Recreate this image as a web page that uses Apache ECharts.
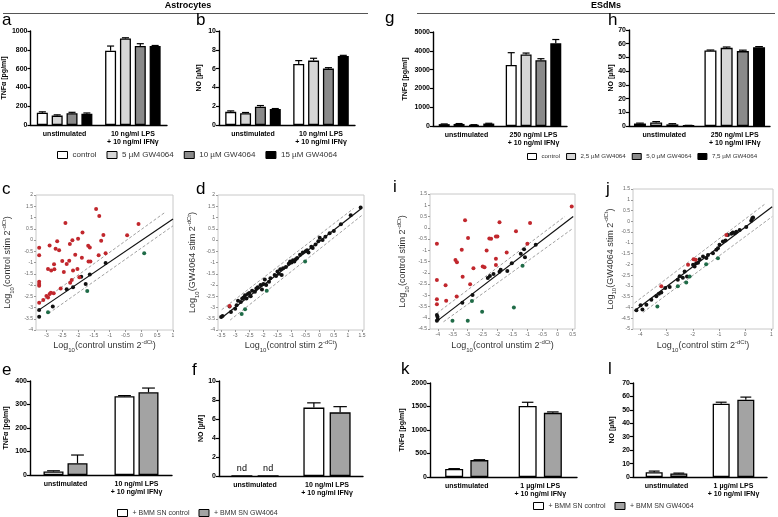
<!DOCTYPE html>
<html><head><meta charset="utf-8">
<script src="https://cdn.jsdelivr.net/npm/echarts@6/dist/echarts.min.js"></script>
<style>html,body{margin:0;padding:0;background:#fff}#c{width:778px;height:517px}</style>
</head><body><div id="c"></div>
<script>
// ---------- categories & series names ----------
const catsAstro = ['unstimulated', '10 ng/ml LPS\n+ 10 ng/ml IFNγ'];
const catsEsdm = ['unstimulated', '250 ng/ml LPS\n+ 10 ng/ml IFNγ'];
const catsBmmE = ['unstimulated', '10 ng/ml LPS\n+ 10 ng/ml IFNγ'];
const catsBmmK = ['unstimulated', '1 µg/ml LPS\n+ 10 ng/ml IFNγ'];
const astroNames = ['control', '5 µM GW4064', '10 µM GW4064', '15 µM GW4064'];
const esdmNames = ['control', '2,5 µM GW4064', '5,0 µM GW4064', '7,5 µM GW4064'];
const bmmNames = ['+ BMM SN control', '+ BMM SN GW4064'];

// ---------- bar values [unstimulated, stimulated] per series ----------
const aTNF = [[130, 790], [100, 920], [125, 840], [120, 840]];
const aTNFerr = [[10, 50], [8, 8], [10, 25], [8, 6]];
const bNO = [[1.4, 6.5], [1.25, 6.85], [1.95, 6.0], [1.7, 7.35]];
const bNOerr = [[0.1, 0.35], [0.08, 0.25], [0.12, 0.1], [0.05, 0.06]];
const gTNF = [[100, 3250], [110, 3800], [60, 3500], [130, 4400]];
const gTNFerr = [[10, 650], [20, 80], [10, 80], [15, 200]];
const hNO = [[1.8, 55], [2.6, 57], [1.2, 54.6], [0.4, 57.4]];
const hNOerr = [[0.3, 0.4], [0.6, 0.6], [0.5, 0.7], [0.1, 0.5]];
const eTNF = [[15, 335], [50, 352]];
const eTNFerr = [[3, 3], [35, 18]];
const fNO = [['nd', 7.2], ['nd', 6.7]];
const fNOerr = [[0, 0.5], [0, 0.6]];
const kTNF = [[170, 1510], [360, 1365]];
const kTNFerr = [[8, 80], [8, 20]];
const lNO = [[3.6, 54.5], [2.6, 57.5]];
const lNOerr = [[0.8, 1.2], [0.3, 2.0]];

// ---------- scatter points [x, y] ----------
const cRed = [[-3.23,-0.34],[-3.23,-0.68],[-3.23,-1.85],[-3.23,-1.96],[-3.23,-2.03],[-3.23,-2.79],[-3.10,-2.67],[-3.0,-2.49],[-2.95,-2.56],[-2.9,-2.40],[-2.9,-0.24],[-2.95,-1.29],[-2.85,-1.36],[-2.86,-2.34],[-2.77,-2.37],[-2.76,-1.08],[-2.75,-1.30],[-2.71,-0.39],[-2.66,-0.06],[-2.6,-0.46],[-2.55,-2.15],[-2.5,-0.93],[-2.45,-1.42],[-2.4,0.76],[-2.36,-1.07],[-2.28,-0.92],[-2.26,-0.18],[-2.25,-1.9],[-2.2,-1.78],[-2.18,-0.01],[-2.16,-1.36],[-2.09,-0.65],[-2.02,-1.29],[-2.0,0.06],[-1.96,-1.66],[-1.86,0.33],[-1.88,-0.79],[-1.68,-0.25],[-1.63,-0.33],[-1.67,-0.96],[-1.61,-0.96],[-1.43,1.38],[-1.33,1.07],[-1.35,-0.68],[-1.27,-0.03],[-1.2,0.22],[-1.13,-0.59],[-0.45,0.21],[-0.09,0.71]];
const cBlack = [[-3.23,-3.11],[-3.23,-3.41],[-2.8,-2.96],[-2.36,-2.19],[-2.16,-2.10],[-1.9,-1.63],[-1.76,-1.96],[-1.63,-1.53],[-1.13,-1.02]];
const cGreen = [[-2.95,-3.21],[-1.71,-2.27],[0.09,-0.59]];
const dRed = [[-3.2,-2.93]];
const dBlack = [[-3.5,-3.42],[-3.45,-3.38],[-3.2,-2.95],[-3.15,-3.2],[-3.0,-3.05],[-2.95,-2.9],[-2.9,-2.7],[-2.8,-2.75],[-2.75,-2.6],[-2.7,-2.55],[-2.65,-2.45],[-2.6,-2.6],[-2.55,-2.4],[-2.5,-2.35],[-2.45,-2.5],[-2.4,-2.25],[-2.3,-2.3],[-2.25,-2.15],[-2.2,-2.1],[-2.1,-2.0],[-2.05,-2.2],[-2.0,-1.95],[-1.95,-1.75],[-1.9,-2.0],[-1.8,-1.85],[-1.75,-1.7],[-1.6,-1.55],[-1.55,-1.6],[-1.5,-1.4],[-1.45,-1.5],[-1.4,-1.3],[-1.35,-1.55],[-1.3,-1.25],[-1.2,-1.2],[-1.1,-1.05],[-1.05,-0.95],[-1.0,-1.0],[-0.95,-0.9],[-0.9,-0.95],[-0.85,-0.85],[-0.8,-0.8],[-0.7,-0.65],[-0.6,-0.55],[-0.5,-0.5],[-0.45,-0.45],[-0.4,-0.55],[-0.3,-0.3],[-0.25,-0.35],[-0.15,-0.2],[-0.05,-0.05],[0.0,0.1],[0.1,0.0],[0.2,0.15],[0.35,0.3],[0.5,0.4],[0.75,0.7],[1.1,1.1],[1.45,1.45]];
const dGreen = [[-2.77,-3.29],[-2.65,-3.08],[-1.88,-2.25],[-0.52,-0.96]];
const iRed = [[-4.03,-0.71],[-4.03,-2.32],[-4.03,-3.18],[-4.03,-3.40],[-3.74,-2.56],[-3.72,-3.24],[-3.37,-3.06],[-3.41,-1.43],[-3.36,-1.53],[-3.2,-0.98],[-3.09,0.33],[-2.99,-0.46],[-3.17,-2.18],[-2.92,-2.51],[-2.81,-1.80],[-2.5,-1.72],[-2.44,-1.75],[-2.37,-1.01],[-2.28,-0.48],[-2.22,-0.49],[-2.06,-0.39],[-2.01,-0.39],[-2.06,-1.38],[-2.06,-1.66],[-1.94,0.25],[-1.7,-1.1],[-1.39,-0.16],[-1.01,-0.71],[-0.92,0.21],[0.47,0.95]];
const iBlack = [[-4.03,-3.88],[-4.01,-3.95],[-4.03,-4.13],[-4.0,-4.07],[-3.18,-3.33],[-2.84,-2.99],[-2.33,-2.23],[-2.26,-2.14],[-2.14,-2.05],[-1.94,-1.95],[-1.9,-1.87],[-1.68,-1.92],[-1.53,-1.58],[-1.23,-1.16],[-1.09,-1.31],[-1.12,-0.95],[-0.73,-0.76]];
const iGreen = [[-3.51,-4.13],[-3.0,-4.13],[-2.86,-3.25],[-2.52,-3.73],[-1.46,-3.54],[-1.17,-1.69]];
const jRed = [[-3.2,-3.02],[-2.18,-2.02],[-1.97,-1.76],[-1.89,-1.79],[-0.72,-0.63]];
const jBlack = [[-4.15,-4.13],[-3.99,-3.9],[-3.92,-4.1],[-3.77,-3.87],[-3.58,-3.64],[-3.39,-3.48],[-3.29,-3.36],[-3.2,-3.3],[-3.05,-3.1],[-2.88,-3.05],[-2.57,-2.71],[-2.5,-2.55],[-2.38,-2.62],[-2.31,-2.33],[-2.22,-2.56],[-1.99,-2.02],[-1.93,-2.1],[-1.87,-1.95],[-1.8,-1.92],[-1.74,-1.76],[-1.61,-1.63],[-1.48,-1.7],[-1.42,-1.56],[-1.23,-1.48],[-1.1,-1.32],[-1.04,-1.25],[-0.98,-1.09],[-0.85,-0.94],[-0.75,-0.89],[-0.66,-0.63],[-0.53,-0.58],[-0.47,-0.52],[-0.4,-0.55],[-0.34,-0.48],[-0.21,-0.4],[0.04,-0.27],[0.23,0.03],[0.27,0.14],[0.3,0.18]];
const jGreen = [[-3.35,-3.95],[-2.57,-3.02],[-2.25,-2.84],[-2.12,-2.56],[-1.49,-1.99],[-1.04,-1.71]];

// ---------- regression / 2-fold threshold lines ----------
const cLines = {mid: [[-3.28,-3.15],[1.0,0.93]], up: [[-3.2,-2.78],[0.72,1.2]], lo: [[-2.93,-3.26],[1.0,0.63]]};
const dLines = {mid: [[-3.5,-3.48],[1.5,1.42]], up: [[-3.48,-3.1],[1.2,1.4]], lo: [[-3.18,-3.56],[1.5,1.1]]};
const iLines = {mid: [[-4.03,-4.15],[0.52,0.5]], up: [[-4.03,-3.8],[0.24,0.5]], lo: [[-3.81,-4.18],[0.52,-0.02]]};
const jLines = {mid: [[-4.22,-4.15],[1.03,0.68]], up: [[-4.22,-3.79],[0.74,0.79]], lo: [[-3.9,-4.23],[1.03,0.22]]};

// ---------- tick labels for the scatter panels ----------
const cxTicks = [-3,-2.5,-2,-1.5,-1,-0.5,0,0.5,1];
const cyTicks = [-4,-3.5,-3,-2.5,-2,-1.5,-1,-0.5,0,0.5,1,1.5,2];
const dxTicks = [-3.5,-3,-2.5,-2,-1.5,-1,-0.5,0,0.5,1,1.5];
const dyTicks = [-4,-3.5,-3,-2.5,-2,-1.5,-1,-0.5,0,0.5,1,1.5,2];
const ixTicks = [-4,-3.5,-3,-2.5,-2,-1.5,-1,-0.5,0,0.5];
const iyTicks = [-4.5,-4,-3.5,-3,-2.5,-2,-1.5,-1,-0.5,0,0.5,1,1.5];
const jxTicks = [-4,-3,-2,-1,0,1];
const jyTicks = [-5,-4.5,-4,-3.5,-3,-2.5,-2,-1.5,-1,-0.5,0,0.5,1,1.5];

// ================= build =================
const FONT = 'Liberation Sans, Arial, sans-serif';
const grays4 = ['#ffffff', '#d6d6d6', '#8a8a8a', '#000000'];
const grays2 = ['#ffffff', '#a3a3a3'];
const grids = [], xAxes = [], yAxes = [], series = [];

function barPanel(g, cats, yMax, yInt, yName, nameGap, names, colors, vals, errs, bw, gapPct) {
  const gi = grids.length;
  grids.push(Object.assign({containLabel: false}, g));
  xAxes.push({type: 'category', gridIndex: gi, data: cats,
    axisLine: {lineStyle: {color: '#000', width: 1.4}},
    axisTick: {alignWithLabel: true, length: 3, lineStyle: {color: '#000', width: 1.2}},
    axisLabel: {fontSize: 7, fontWeight: 'bold', color: '#000', fontFamily: FONT, margin: 5, lineHeight: 8, interval: 0}});
  yAxes.push({type: 'value', gridIndex: gi, min: 0, max: yMax, interval: yInt,
    name: yName, nameLocation: 'middle', nameGap: nameGap,
    nameTextStyle: {fontSize: 7, fontWeight: 'bold', color: '#000', fontFamily: FONT},
    axisLine: {show: true, lineStyle: {color: '#000', width: 1.4}},
    axisTick: {show: true, length: 3, lineStyle: {color: '#000', width: 1.2}},
    axisLabel: {fontSize: 7, fontWeight: 'bold', color: '#000', fontFamily: FONT, margin: 3, formatter: v => String(v)},
    splitLine: {show: false}});
  const n = names.length;
  const gapPx = bw * gapPct / 100;
  names.forEach((nm, s) => {
    series.push({type: 'bar', name: nm, xAxisIndex: gi, yAxisIndex: gi, barWidth: bw, barGap: gapPct + '%',
      itemStyle: {color: colors[s], borderColor: '#000', borderWidth: 1.3},
      data: vals[s].map(v => v === 'nd'
        ? {value: 0, label: {show: true, formatter: 'nd', position: 'top', distance: 2, fontSize: 9, color: '#000', fontFamily: FONT}}
        : v)});
    series.push({type: 'custom', xAxisIndex: gi, yAxisIndex: gi, z: 5, silent: true, encode: {x: 0, y: 1},
      renderItem: (params, api) => {
        const c = api.value(0), v = api.value(1), e = api.value(2);
        if (!e) return null;
        const p0 = api.coord([c, v]), p1 = api.coord([c, v + e]);
        const x = p0[0] + (s - (n - 1) / 2) * (bw + gapPx);
        const cw = Math.max(3, bw * 0.32);
        return {type: 'group', children: [
          {type: 'line', shape: {x1: x, y1: p0[1], x2: x, y2: p1[1]}, style: {stroke: '#000', lineWidth: 1.2}},
          {type: 'line', shape: {x1: x - cw, y1: p1[1], x2: x + cw, y2: p1[1]}, style: {stroke: '#000', lineWidth: 1.2}}]};
      },
      data: vals[s].map((v, k) => [k, v === 'nd' ? 0 : v, errs[s][k]])});
  });
}

const rich = {
  sub: {fontSize: 6, lineHeight: 6, verticalAlign: 'bottom', color: '#333', fontFamily: FONT},
  sup: {fontSize: 6, lineHeight: 6, verticalAlign: 'top', color: '#333', fontFamily: FONT}
};
function logName(t) { return 'Log{sub|10}(' + t + ' 2{sup|-dCt})'; }

function scatterPanel(g, xr, yr, xt, yt, xName, yName, xGap, yGap, red, black, green, lines) {
  const gi = grids.length;
  grids.push(Object.assign({show: true, borderColor: '#c8c8c8', borderWidth: 1, backgroundColor: '#fff'}, g));
  const common = {
    axisLine: {show: false, onZero: false},
    splitLine: {show: false},
    nameLocation: 'middle',
    nameTextStyle: {fontSize: 9, color: '#333', fontFamily: FONT, lineHeight: 14, rich: rich}
  };
  xAxes.push(Object.assign({type: 'value', gridIndex: gi, min: xr[0], max: xr[1], name: xName, nameGap: xGap, position: 'bottom',
    axisTick: {show: true, length: 2, lineStyle: {color: '#999'}, customValues: xt},
    axisLabel: {fontSize: 5, color: '#666', fontFamily: FONT, margin: 3, customValues: xt}}, common));
  yAxes.push(Object.assign({type: 'value', gridIndex: gi, min: yr[0], max: yr[1], name: yName, nameGap: yGap, position: 'left',
    axisTick: {show: true, length: 2, lineStyle: {color: '#999'}, customValues: yt},
    axisLabel: {fontSize: 5, color: '#666', fontFamily: FONT, margin: 3, customValues: yt}}, common));
  const ln = (d, st) => ({type: 'line', xAxisIndex: gi, yAxisIndex: gi, data: d, symbol: 'none', silent: true, lineStyle: st, z: 2});
  series.push(ln(lines.up, {color: '#888', width: 0.8, type: [3, 2]}));
  series.push(ln(lines.lo, {color: '#888', width: 0.8, type: [3, 2]}));
  series.push(ln(lines.mid, {color: '#111', width: 1.2}));
  const sc = (d, col) => ({type: 'scatter', xAxisIndex: gi, yAxisIndex: gi, data: d, symbolSize: 4, z: 3,
    itemStyle: {color: col, opacity: 1}});
  series.push(sc(black, '#111111'));
  series.push(sc(red, '#c1272d'));
  series.push(sc(green, '#1f6b47'));
}

// top bars
barPanel({left: 27, top: 31, width: 140, height: 94}, catsAstro, 1000, 200, 'TNFα [pg/ml]', 19, astroNames, grays4, aTNF, aTNFerr, 11, 35);
barPanel({left: 219, top: 31, width: 136, height: 94}, catsAstro, 10, 2, 'NO [µM]', 16, astroNames, grays4, bNO, bNOerr, 11, 35);
barPanel({left: 433, top: 32, width: 134, height: 94}, catsEsdm, 5000, 1000, 'TNFα [pg/ml]', 24, esdmNames, grays4, gTNF, gTNFerr, 11, 35);
barPanel({left: 629, top: 30, width: 141, height: 96}, catsEsdm, 70, 10, 'NO [µM]', 13, esdmNames, grays4, hNO, hNOerr, 12, 35);
// scatter
scatterPanel({left: 30, top: 195, width: 143, height: 135}, [-3.33, 1], [-4, 2], cxTicks, cyTicks,
  logName('control unstim'), logName('control stim'), 9, 21, cRed, cBlack, cGreen, cLines);
scatterPanel({left: 218, top: 195, width: 146, height: 135}, [-3.61, 1.57], [-4, 2], dxTicks, dyTicks,
  logName('control stim'), logName('GW4064 stim'), 9, 18, dRed, dBlack, dGreen, dLines);
scatterPanel({left: 430, top: 194, width: 145, height: 135}, [-4.26, 0.58], [-4.5, 1.5], ixTicks, iyTicks,
  logName('control unstim'), logName('control stim'), 10, 20, iRed, iBlack, iGreen, iLines);
scatterPanel({left: 633, top: 189, width: 140, height: 140}, [-4.28, 1.06], [-5, 1.5], jxTicks, jyTicks,
  logName('control stim'), logName('GW4064 stim'), 10, 14, jRed, jBlack, jGreen, jLines);
// bottom bars
barPanel({left: 30, top: 381, width: 142, height: 94}, catsBmmE, 400, 100, 'TNFα [pg/ml]', 20, bmmNames, grays2, eTNF, eTNFerr, 20, 20);
barPanel({left: 219, top: 381, width: 144, height: 95}, catsBmmE, 10, 2, 'NO [µM]', 14, bmmNames, grays2, fNO, fNOerr, 21, 25);
barPanel({left: 430, top: 383, width: 147, height: 94}, catsBmmK, 2000, 500, 'TNFα [pg/ml]', 24, bmmNames, grays2, kTNF, kTNFerr, 18, 40);
barPanel({left: 633, top: 383, width: 134, height: 94}, catsBmmK, 70, 10, 'NO [µM]', 17, bmmNames, grays2, lNO, lNOerr, 17, 45);

const legendBase = {icon: 'rect', itemWidth: 10, itemHeight: 7, orient: 'horizontal', width: 400,
  textStyle: {fontSize: 8, color: '#333', fontFamily: FONT, padding: [0, 0, 0, 0]},
  itemStyle: {borderColor: '#000', borderWidth: 1}, selectedMode: false, padding: 0};
const legends = [
  Object.assign({}, legendBase, {data: astroNames, left: 57, top: 151, itemGap: 10}),
  Object.assign({}, legendBase, {data: esdmNames, left: 527, top: 153, itemGap: 6, itemWidth: 9, itemHeight: 6,
    textStyle: {fontSize: 6.2, color: '#333', fontFamily: FONT}}),
  Object.assign({}, legendBase, {data: bmmNames, left: 117, top: 509, itemGap: 9,
    textStyle: {fontSize: 7, color: '#333', fontFamily: FONT}}),
  Object.assign({}, legendBase, {data: bmmNames, left: 533, top: 502, itemGap: 9,
    textStyle: {fontSize: 7, color: '#333', fontFamily: FONT}})
];

const letter = (t, x, y) => ({type: 'text', x: x, y: y, style: {text: t, fill: '#000', font: '17px ' + FONT, verticalAlign: 'top'}});
const graphic = [
  {type: 'text', x: 188, y: 1, style: {text: 'Astrocytes', fill: '#000', font: 'bold 9px ' + FONT, align: 'center', verticalAlign: 'top'}},
  {type: 'line', shape: {x1: 3, y1: 13.5, x2: 368, y2: 13.5}, style: {stroke: '#555', lineWidth: 1}},
  {type: 'text', x: 606, y: 1, style: {text: 'ESdMs', fill: '#000', font: 'bold 9px ' + FONT, align: 'center', verticalAlign: 'top'}},
  {type: 'line', shape: {x1: 417, y1: 13.5, x2: 775, y2: 13.5}, style: {stroke: '#555', lineWidth: 1}},
  letter('a', 2, 12), letter('b', 196, 12), letter('g', 385, 10), letter('h', 608, 12),
  letter('c', 2, 181), letter('d', 196, 181), letter('i', 393, 179), letter('j', 606, 181),
  letter('e', 2, 362), letter('f', 192, 362), letter('k', 401, 361), letter('l', 608, 361)
];

const chart = echarts.init(document.getElementById('c'), null, {renderer: 'canvas'});
chart.setOption({
  animation: false,
  backgroundColor: '#fff',
  grid: grids, xAxis: xAxes, yAxis: yAxes, series: series, legend: legends, graphic: graphic
});
</script></body></html>
